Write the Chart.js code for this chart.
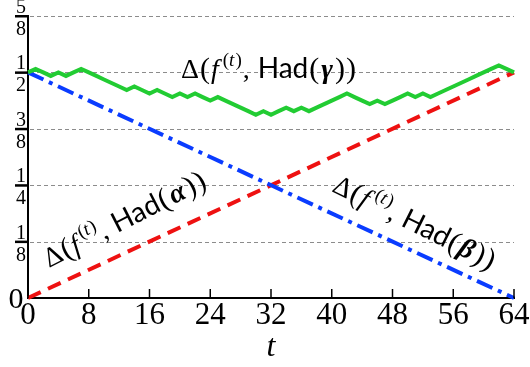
<!DOCTYPE html>
<html>
<head>
<meta charset="utf-8">
<script src="https://cdn.jsdelivr.net/npm/chart.js@4/dist/chart.umd.min.js"></script>
<style>
  html, body { margin: 0; padding: 0; background: #fff; }
  #wrap { width: 530px; height: 367px; position: relative; }
</style>
</head>
<body>
<div id="wrap"><canvas id="distChart" width="530" height="367"></canvas></div>
<script>
// --- DATA ---
// t from 0 to 64
const tSteps = [0, 1, 2, 3, 4, 5, 6, 7, 8, 9, 10, 11, 12, 13, 14, 15, 16, 17, 18, 19, 20,
  21, 22, 23, 24, 25, 26, 27, 28, 29, 30, 31, 32, 33, 34, 35, 36, 37, 38, 39, 40, 41, 42,
  43, 44, 45, 46, 47, 48, 49, 50, 51, 52, 53, 54, 55, 56, 57, 58, 59, 60, 61, 62, 63, 64];
// distance to Had(gamma) in units of 1/128
const distGamma128 = [64, 65, 64, 63, 64, 63, 64, 65, 64, 63, 62, 61, 60, 59, 60, 59, 58,
  59, 58, 57, 58, 57, 58, 57, 56, 57, 56, 55, 54, 53, 52, 53, 52, 53, 54, 53, 54, 53, 54,
  55, 56, 57, 58, 57, 56, 55, 56, 55, 56, 57, 58, 57, 58, 57, 58, 59, 60, 61, 62, 63, 64,
  65, 66, 65, 64];
// straight lines: endpoints only
const alphaT = [0, 64];
const alphaDist = [0, 0.5];
const betaT = [0, 64];
const betaDist = [0.5, 0];

const xTicks = [0, 8, 16, 24, 32, 40, 48, 56, 64];
const yTicks = [0, 0.125, 0.25, 0.375, 0.5, 0.625];
const yTickNum = ['0', '1', '1', '3', '1', '5'];
const yTickDen = ['', '8', '4', '8', '2', '8'];

const SERIF = '"Liberation Serif", "DejaVu Serif", serif';
const SANS = 'Lato, "DejaVu Sans", sans-serif';

// --- RICH TEXT HELPER (math-ish labels) ---
function labelParts(greek, size) {
  const sup = Math.round(size * 0.68);
  const up = -size * 0.42;
  return [
    { t: '\u0394', f: `${size}px ${SERIF}`, gap: 1 },
    { t: '(', f: `${size + 2}px ${SERIF}`, gap: 1 },
    { t: 'f', f: `italic ${size}px ${SERIF}`, gap: 4 },
    { t: '(', f: `${sup}px ${SERIF}`, dy: up },
    { t: 't', f: `italic ${sup}px ${SERIF}`, dy: up, gap: 1 },
    { t: ')', f: `${sup}px ${SERIF}`, dy: up, gap: 1 },
    { t: ',', f: `${size}px ${SERIF}`, gap: 8 },
    { t: 'Had', f: `${size}px ${SANS}`, gap: 1 },
    { t: '(', f: `${size + 2}px ${SERIF}`, gap: 2 },
    { t: greek, f: `italic bold ${size}px ${SERIF}`, gap: 2 },
    { t: ')', f: `${size + 2}px ${SERIF}`, gap: 1 },
    { t: ')', f: `${size + 2}px ${SERIF}` }
  ];
}

function drawRich(ctx, parts, x, y, angleDeg) {
  ctx.save();
  ctx.translate(x, y);
  ctx.rotate(angleDeg * Math.PI / 180);
  ctx.fillStyle = '#000';
  ctx.textBaseline = 'alphabetic';
  ctx.textAlign = 'left';
  let cx = 0;
  parts.forEach(p => {
    ctx.font = p.f;
    ctx.fillText(p.t, cx, p.dy || 0);
    cx += ctx.measureText(p.t).width + (p.gap || 0);
  });
  ctx.restore();
}

// --- AXIS DECORATION PLUGIN ---
const axisDecor = {
  id: 'axisDecor',
  beforeDatasetsDraw(chart) {
    const { ctx, chartArea, scales: { y } } = chart;
    // dashed horizontal grid
    ctx.save();
    ctx.strokeStyle = '#8c8c8c';
    ctx.lineWidth = 1;
    ctx.setLineDash([4, 3]);
    yTicks.forEach(v => {
      if (v === 0) return;
      const py = Math.round(y.getPixelForValue(v)) + 0.5;
      ctx.beginPath();
      ctx.moveTo(chartArea.left + 2, py);
      ctx.lineTo(chartArea.right, py);
      ctx.stroke();
    });
    ctx.restore();
  },
  afterDraw(chart) {
    const { ctx, chartArea, scales: { x, y } } = chart;
    ctx.save();
    // x ticks pointing inward
    ctx.strokeStyle = '#000';
    ctx.lineWidth = 1.5;
    xTicks.forEach(v => {
      const px = x.getPixelForValue(v);
      ctx.beginPath();
      ctx.moveTo(px, chartArea.bottom);
      ctx.lineTo(px, chartArea.bottom - 9);
      ctx.stroke();
    });
    // x tick labels
    ctx.fillStyle = '#000';
    ctx.font = `31px ${SERIF}`;
    ctx.textAlign = 'center';
    ctx.textBaseline = 'alphabetic';
    xTicks.forEach(v => {
      ctx.fillText(String(v), x.getPixelForValue(v), chartArea.bottom + 26);
    });
    // x axis title
    ctx.font = `italic 32px ${SERIF}`;
    ctx.fillText('t', (chartArea.left + chartArea.right) / 2, chartArea.bottom + 58);

    // y tick labels as stacked fractions
    yTicks.forEach((v, i) => {
      const py = y.getPixelForValue(v);
      if (!yTickDen[i]) {
        ctx.font = `30px ${SERIF}`;
        ctx.textAlign = 'center';
        ctx.fillText(yTickNum[i], 16, py + 10);
        return;
      }
      ctx.font = `20px ${SERIF}`;
      ctx.textAlign = 'center';
      ctx.fillText(yTickNum[i], 21, py - 3);
      ctx.fillText(yTickDen[i], 21, py + 19);
      ctx.fillRect(15, py - 1, chartArea.left - 15, 2.5);
    });

    // curve labels
    drawRich(ctx, labelParts('\u03B3', 28), 181, 78, 0);
    drawRich(ctx, labelParts('\u03B1', 28), 49, 268, -27);
    drawRich(ctx, labelParts('\u03B2', 28), 331, 191, 26.5);
    ctx.restore();
  }
};

// --- CHART ---
const canvas = document.getElementById('distChart');
new Chart(canvas, {
  type: 'line',
  data: {
    datasets: [
      {
        label: 'Had(gamma)',
        data: tSteps.map((t, i) => ({ x: t, y: distGamma128[i] / 128 })),
        borderColor: '#22cc33',
        borderWidth: 4,
        pointRadius: 0,
        tension: 0,
        order: 0
      },
      {
        label: 'Had(beta)',
        data: betaT.map((t, i) => ({ x: t, y: betaDist[i] })),
        borderColor: '#0a3cff',
        borderWidth: 4,
        borderDash: [17, 6, 4, 6],
        pointRadius: 0,
        order: 1
      },
      {
        label: 'Had(alpha)',
        data: alphaT.map((t, i) => ({ x: t, y: alphaDist[i] })),
        borderColor: '#ee1111',
        borderWidth: 4,
        borderDash: [14, 8],
        pointRadius: 0,
        order: 2
      }
    ]
  },
  options: {
    responsive: false,
    animation: false,
    devicePixelRatio: 1,
    clip: false,
    layout: { padding: { left: 28, right: 16, top: 16, bottom: 69 } },
    plugins: { legend: { display: false }, tooltip: { enabled: false } },
    scales: {
      x: {
        type: 'linear',
        min: 0,
        max: 64,
        ticks: { display: false },
        grid: { display: false, drawTicks: false },
        border: { display: true, color: '#000', width: 2 }
      },
      y: {
        min: 0,
        max: 0.625,
        ticks: { display: false },
        grid: { display: false, drawTicks: false },
        border: { display: true, color: '#000', width: 2 }
      }
    }
  },
  plugins: [axisDecor]
});
</script>
</body>
</html>
